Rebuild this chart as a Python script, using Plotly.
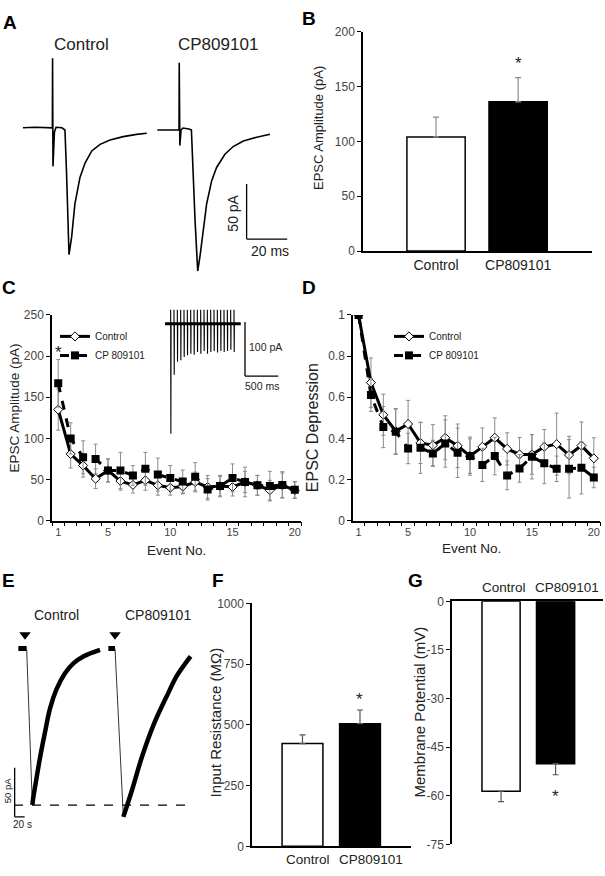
import plotly.graph_objects as go

W, H = 605, 876
FONT = "Liberation Sans, Arial, sans-serif"

# ---------------- data ----------------
# Panel A: representative EPSC traces (time ms, current pA)
a_ctrl_t = [11.3, 17.2, 25.8, 25.9, 26.1, 26.8, 27.6, 30.5, 32.0, 32.8, 33.5, 34.0, 35.3, 36.9,
            39.4, 41.9, 45.2, 49.3, 54.2, 60.7, 67.3, 72.3]
a_ctrl_pa = [2.0, 2.5, 2.0, 65, -33, -2, 2.5, 2.0, 0, -40, -95, -113, -97, -67,
             -43, -30, -19, -13, -9, -6, -4, -3]
a_cp_t = [77.5, 88.2, 88.3, 88.6, 89.2, 90.1, 93.1, 94.3, 96.1, 97.4, 98.5, 100.2, 101.8,
          104.3, 106.7, 110.8, 114.9, 119.9, 126.5, 133.0]
a_cp_pa = [0, 0, 61, -14, 0, 1.8, 0.9, 0, -82, -128, -115, -91, -67,
           -46, -34, -22, -15, -10, -6.5, -3.8]

# Panel B: EPSC amplitude
groups = ["Control", "CP809101"]
b_mean = [104, 136]
b_sem = [18, 22]

# Panel C: EPSC amplitude over a 20-event train
events = list(range(1, 21))
c_ctrl = [135, 81, 67, 51, 61, 48, 43.5, 49, 43, 40, 41.5, 47, 41, 42, 41, 47, 43, 37, 43, 37]
c_ctrl_err = [25, 17, 14, 12, 14, 11, 10, 12, 12, 9, 9, 12, 14, 12, 11, 13, 12, 12, 15, 10]
c_cp = [167, 100, 77, 75, 61, 61, 55, 63, 56, 52, 47.5, 53.5, 38, 42, 52, 47, 43, 42, 43.5, 37.5]
c_cp_err = [29, 19, 20, 18, 14, 22, 12, 20, 20, 15, 14, 17, 13, 13, 17, 18, 12, 18, 16, 10]

# Panel C inset: 20 Hz train (ms, pA)
inset_stim_t = [310, 360, 410, 460, 510, 560, 610, 660, 710, 760,
                810, 860, 910, 960, 1010, 1060, 1110, 1160, 1210, 1260]
inset_amp = [203, 94, 70, 67, 61, 58, 55, 57, 52, 55, 50, 55, 52, 50, 53, 50, 52, 50, 48, 52]
inset_art = 26
inset_span = [225, 1360]

# Panel D: EPSC depression
d_ctrl = [1.0, 0.671, 0.515, 0.435, 0.47, 0.378, 0.367, 0.403, 0.364, 0.314,
          0.359, 0.403, 0.349, 0.322, 0.322, 0.359, 0.372, 0.319, 0.365, 0.303]
d_ctrl_err = [0, 0.12, 0.10, 0.11, 0.115, 0.10, 0.10, 0.107, 0.106, 0.093,
              0.092, 0.097, 0.078, 0.082, 0.096, 0.084, 0.151, 0.091, 0.115, 0.10]
d_cp = [1.0, 0.611, 0.455, 0.432, 0.351, 0.354, 0.327, 0.375, 0.33, 0.314,
        0.271, 0.314, 0.22, 0.254, 0.311, 0.279, 0.252, 0.252, 0.257, 0.21]
d_cp_err = [0, 0.08, 0.10, 0.11, 0.074, 0.124, 0.064, 0.115, 0.12, 0.084,
            0.081, 0.091, 0.07, 0.067, 0.108, 0.099, 0.062, 0.142, 0.127, 0.05]

# Panel E: slow currents (time s, current pA)
e_ctrl_t = [36.7, 53.3, 64.7, 66.7, 73.3, 80, 90, 100, 113.3, 130, 146.7, 166.7, 200]
e_ctrl_pa = [0, 0, -159, -151, -131, -111, -85, -61, -41, -25, -15, -8, -1.3]
e_cp_t = [216.7, 230, 246.7, 263.3, 283.3, 306.7, 336.7, 353.3, 376.7, 381.3]
e_cp_pa = [0, 0, -171, -145, -111, -78, -45, -28, -11, -8]
e_stim_t = [50, 230]

# Panel F: input resistance
f_mean = [423, 505]
f_sem = [36, 56]

# Panel G: membrane potential
g_mean = [-58.6, -50.1]
g_sem = [3.2, 3.4]
g_ticks = [0, -15, -30, -45, -60, -75]


# ---------------- helpers ----------------
def dx(x0, x1):
    return [x0 / W, x1 / W]


def dy(y0, y1):
    return [1 - y1 / H, 1 - y0 / H]


def px(x, y):
    return x / W, 1 - y / H


fig = go.Figure()
BLACK = "black"
ERR = "#8a8a8a"

# ---- A
for t, v in ((a_ctrl_t, a_ctrl_pa), (a_cp_t, a_cp_pa)):
    fig.add_trace(go.Scatter(x=t, y=v, mode="lines", line=dict(color=BLACK, width=1.6),
                             xaxis="x", yaxis="y", showlegend=False, hoverinfo="skip"))

# ---- B
fig.add_trace(go.Bar(x=groups, y=b_mean, width=0.71,
                     marker=dict(color=["white", "black"], line=dict(color=BLACK, width=1.5)),
                     error_y=dict(type="data", array=b_sem, arrayminus=[0, 0], symmetric=False,
                                  color=ERR, thickness=1.2, width=3),
                     xaxis="x2", yaxis="y2", showlegend=False))

# ---- C
fig.add_trace(go.Scatter(x=events, y=c_ctrl, mode="lines+markers", name="Control",
                         line=dict(color=BLACK, width=3),
                         marker=dict(symbol="diamond", size=7, color="white", line=dict(color=BLACK, width=1)),
                         error_y=dict(type="data", array=c_ctrl_err, color=ERR, thickness=1, width=2),
                         xaxis="x3", yaxis="y3", legend="legend"))
fig.add_trace(go.Scatter(x=events, y=c_cp, mode="lines+markers", name="CP 809101",
                         line=dict(color=BLACK, width=3, dash="dash"),
                         marker=dict(symbol="square", size=8, color=BLACK),
                         error_y=dict(type="data", array=c_cp_err, color=ERR, thickness=1, width=2),
                         xaxis="x3", yaxis="y3", legend="legend"))

# ---- C inset train
tr_t, tr_pa = [inset_span[0]], [0]
for t, a in zip(inset_stim_t, inset_amp):
    tr_t += [t, t, t + 3, t + 6]
    tr_pa += [0, inset_art, -a, 0]
tr_t.append(inset_span[1])
tr_pa.append(0)
fig.add_trace(go.Scatter(x=tr_t, y=tr_pa, mode="lines", line=dict(color=BLACK, width=1.1),
                         xaxis="x4", yaxis="y4", showlegend=False, hoverinfo="skip"))
fig.add_trace(go.Scatter(x=inset_span, y=[0, 0], mode="lines", line=dict(color=BLACK, width=3),
                         xaxis="x4", yaxis="y4", showlegend=False, hoverinfo="skip"))

# ---- D
fig.add_trace(go.Scatter(x=events, y=d_ctrl, mode="lines+markers", name="Control",
                         line=dict(color=BLACK, width=3),
                         marker=dict(symbol="diamond", size=7, color="white", line=dict(color=BLACK, width=1)),
                         error_y=dict(type="data", array=d_ctrl_err, color=ERR, thickness=1, width=2),
                         xaxis="x5", yaxis="y5", legend="legend2"))
fig.add_trace(go.Scatter(x=events, y=d_cp, mode="lines+markers", name="CP 809101",
                         line=dict(color=BLACK, width=3, dash="dash"),
                         marker=dict(symbol="square", size=8, color=BLACK),
                         error_y=dict(type="data", array=d_cp_err, color=ERR, thickness=1, width=2),
                         xaxis="x5", yaxis="y5", legend="legend2"))

# ---- E
for t, v in ((e_ctrl_t, e_ctrl_pa), (e_cp_t, e_cp_pa)):
    fig.add_trace(go.Scatter(x=t[:2], y=v[:2], mode="lines", line=dict(color=BLACK, width=5),
                             xaxis="x6", yaxis="y6", showlegend=False, hoverinfo="skip"))
    fig.add_trace(go.Scatter(x=t[1:3], y=v[1:3], mode="lines", line=dict(color="#333", width=1),
                             xaxis="x6", yaxis="y6", showlegend=False, hoverinfo="skip"))
    fig.add_trace(go.Scatter(x=t[2:], y=v[2:], mode="lines", line=dict(color=BLACK, width=4.5, shape="spline"),
                             xaxis="x6", yaxis="y6", showlegend=False, hoverinfo="skip"))
fig.add_trace(go.Scatter(x=e_stim_t, y=[14] * len(e_stim_t), mode="markers",
                         marker=dict(symbol="triangle-down", size=10, color=BLACK),
                         xaxis="x6", yaxis="y6", showlegend=False, hoverinfo="skip"))

# ---- F
fig.add_trace(go.Bar(x=groups, y=f_mean, width=0.71,
                     marker=dict(color=["white", "black"], line=dict(color=BLACK, width=1.5)),
                     error_y=dict(type="data", array=f_sem, arrayminus=[0, 0], symmetric=False,
                                  color="#555", thickness=1.2, width=3),
                     xaxis="x7", yaxis="y7", showlegend=False))

# ---- G
fig.add_trace(go.Bar(x=groups, y=g_mean, width=0.70,
                     marker=dict(color=["white", "black"], line=dict(color=BLACK, width=1.5)),
                     error_y=dict(type="data", array=[0, 0], arrayminus=g_sem, symmetric=False,
                                  color="#555", thickness=1.2, width=3),
                     xaxis="x8", yaxis="y8", showlegend=False))

# ---------------- axes ----------------
hidden = dict(visible=False, showgrid=False, zeroline=False, fixedrange=True)
tickf = dict(family=FONT, size=12, color="#444")
line_ax = dict(showline=True, linecolor=BLACK, linewidth=1.5, showgrid=False, zeroline=False,
               ticks="outside", ticklen=4, tickcolor=BLACK, tickwidth=1, tickfont=tickf)
cat_ax = dict(type="category", showline=True, linecolor=BLACK, linewidth=1.5, ticks="",
              showgrid=False, zeroline=False, tickangle=0)

layout = dict(
    width=W, height=H, margin=dict(l=0, r=0, t=0, b=0),
    paper_bgcolor="white", plot_bgcolor="rgba(0,0,0,0)",
    font=dict(family=FONT, color="#222"),
    showlegend=True,
    # A
    xaxis=dict(domain=dx(0, 300), range=[0, 147.8], anchor="y", **hidden),
    yaxis=dict(domain=dy(40, 280), range=[-138.4, 75.9], anchor="x", **hidden),
    # B
    xaxis2=dict(domain=dx(363, 592), range=[-0.89, 1.9], anchor="y2",
                tickfont=dict(family=FONT, size=14, color="#222"), **cat_ax),
    yaxis2=dict(domain=dy(25, 248), range=[0, 200], dtick=50, anchor="x2", **line_ax),
    # C
    xaxis3=dict(domain=dx(52, 301), range=[0.5, 20.5], anchor="y3", tickmode="array",
                tickvals=[1, 5, 10, 15, 20],
                minor=dict(tickmode="linear", tick0=0.5, dtick=1, ticks="outside", ticklen=4,
                           tickcolor=BLACK),
                **{**line_ax, "ticks": "", "tickfont": dict(family=FONT, size=11, color="#444")}),
    yaxis3=dict(domain=dy(313, 522), range=[0, 250], dtick=50, anchor="x3", **line_ax),
    # C inset
    xaxis4=dict(domain=dx(150, 290), range=[0, 2100], anchor="y4", **hidden),
    yaxis4=dict(domain=dy(300, 445), range=[-223.6, 40], anchor="x4", **hidden),
    # D
    xaxis5=dict(domain=dx(353, 600), range=[0.55, 20.5], anchor="y5", tickmode="array",
                tickvals=[1, 5, 10, 15, 20],
                minor=dict(tickmode="linear", tick0=0.5, dtick=1, ticks="outside", ticklen=4,
                           tickcolor=BLACK),
                **{**line_ax, "ticks": "", "tickfont": dict(family=FONT, size=11, color="#444")}),
    yaxis5=dict(domain=dy(313, 522), range=[0, 1], dtick=0.2, anchor="x5", **line_ax),
    # E
    xaxis6=dict(domain=dx(0, 200), range=[0, 400], anchor="y6", **hidden),
    yaxis6=dict(domain=dy(600, 840), range=[-188, 52], anchor="x6", **hidden),
    # F
    xaxis7=dict(domain=dx(252, 411), range=[-0.878, 1.887], anchor="y7", showticklabels=False, **cat_ax),
    yaxis7=dict(domain=dy(606, 853), range=[0, 1000], dtick=250, anchor="x7", **line_ax),
    # G
    xaxis8=dict(domain=dx(452, 603), range=[-0.9, 1.87], anchor="y8", side="top",
                showticklabels=False, **cat_ax),
    yaxis8=dict(domain=dy(604, 851), range=[-75, 0], tickmode="array", tickvals=g_ticks,
                ticktext=[str(v) for v in g_ticks], anchor="x8", **line_ax),
    legend=dict(x=55 / W, y=1 - 320 / H, xanchor="left", yanchor="top",
                font=dict(family=FONT, size=10, color="#222"), bgcolor="rgba(0,0,0,0)",
                tracegroupgap=0, itemwidth=30),
    legend2=dict(x=389 / W, y=1 - 320 / H, xanchor="left", yanchor="top",
                 font=dict(family=FONT, size=10, color="#222"), bgcolor="rgba(0,0,0,0)",
                 tracegroupgap=0, itemwidth=30),
)
fig.update_layout(**layout)

# ---------------- scale bars & reference line ----------------
shapes = []
sb = dict(type="line", line=dict(color=BLACK, width=1.3))
# A: 50 pA / 20 ms
shapes.append(dict(sb, xref="x", yref="y", x0=121.5, x1=121.5, y0=-49, y1=-99))
shapes.append(dict(sb, xref="x", yref="y", x0=121.5, x1=141.5, y0=-99, y1=-99))
# inset: 100 pA / 500 ms
shapes.append(dict(sb, xref="x4", yref="y4", x0=1425, x1=1425, y0=3.6, y1=-96.4))
shapes.append(dict(sb, xref="x4", yref="y4", x0=1425, x1=1925, y0=-96.4, y1=-96.4))
# E: 50 pA / 20 s
shapes.append(dict(sb, xref="x6", yref="y6", x0=29.3, x1=29.3, y0=-121, y1=-171))
shapes.append(dict(sb, xref="x6", yref="y6", x0=29.3, x1=49.3, y0=-171, y1=-171))
# E: dashed line at control peak
peak = min(e_ctrl_pa)
shapes.append(dict(type="line", xref="x6", yref="y6", x0=28, x1=384, y0=peak, y1=peak,
                   line=dict(color=BLACK, width=1.2, dash="dash")))
fig.update_layout(shapes=shapes)

# ---------------- text ----------------
ann = []


def text(s, x, y, size, color="#222", angle=0, bold=False, xanchor="center"):
    X, Y = px(x, y)
    ann.append(dict(text=f"<b>{s}</b>" if bold else s, x=X, y=Y, xref="paper", yref="paper",
                    showarrow=False, xanchor=xanchor, yanchor="middle", textangle=angle,
                    font=dict(family=FONT, size=size, color=color)))


for s, x, y in (("A", 10, 16), ("B", 309, 12), ("C", 9, 285), ("D", 309, 285),
                ("E", 8, 583), ("F", 218, 583), ("G", 415, 583)):
    text(s, x, y, 19, color="black", bold=True)

text("Control", 82, 38, 17)
text("CP809101", 218, 38, 17)
text("50 pA", 233, 210, 14, angle=-90)
text("20 ms", 270, 248, 14)

text("EPSC Amplitude (pA)", 318, 123, 13, angle=-90)
text("EPSC Amplitude (pA)", 14, 408, 13.5, angle=-90)
text("EPSC Depression", 312, 428, 16, angle=-90)
text("Event No.", 176, 552, 13.5)
text("Event No.", 471, 550, 13.5)
text("100 pA", 247, 346, 10.5, xanchor="left")
text("500 ms", 262, 385, 10.5)

text("Control", 56, 618, 14)
text("CP809101", 158, 618, 14)
text("50 pA", 7, 797, 9.5, angle=-90)
text("20 s", 23, 831, 10)

text("Input Resistance (M\u03a9)", 215, 727, 15, angle=-90)
text("Membrane Potential (mV)", 420, 717, 15, angle=-90)

# category labels of F (below) and G (above)
text(groups[0], 308, 866, 13.5)
text(groups[1], 371, 866, 13.5)
text(groups[0], 504, 590, 13.5)
text(groups[1], 567, 590, 13.5)

# significance stars (data coords)
for xr, yr, xv, yv in (("x2", "y2", "CP809101", 171), ("x3", "y3", 1, 205),
                       ("x7", "y7", "CP809101", 603), ("x8", "y8", "CP809101", -60.1)):
    ann.append(dict(text="*", x=xv, y=yv, xref=xr, yref=yr, showarrow=False,
                    font=dict(family=FONT, size=17, color="#222")))

fig.update_layout(annotations=ann)

fig.write_html("out.html", config={"displayModeBar": False},
               post_script="document.body.style.margin='0';document.body.style.overflow='hidden';")
